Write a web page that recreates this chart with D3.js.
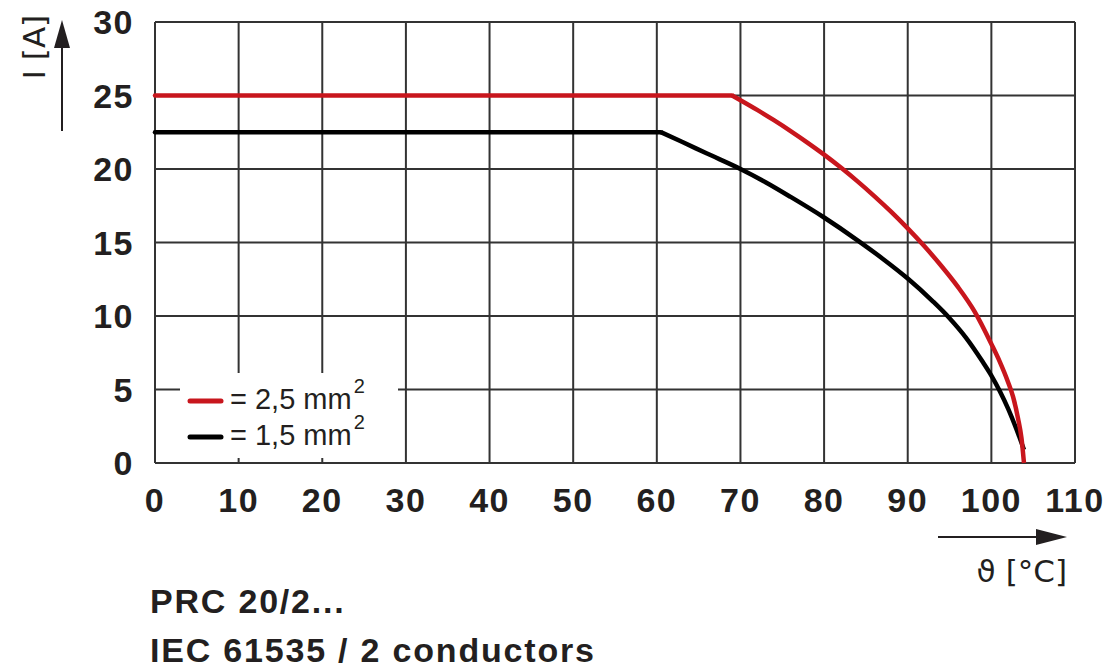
<!DOCTYPE html>
<html>
<head>
<meta charset="utf-8">
<title>PRC 20/2 derating</title>
<script src="https://cdn.jsdelivr.net/npm/d3@7"></script>
<style>
    body { margin: 0; background: #fff; }
    .tick-label { font-family: "Liberation Sans", Arial, sans-serif; font-weight: bold; font-size: 34px; fill: #231f20; letter-spacing: 1.5px; }
    .unit { font-family: "DejaVu Sans", "Liberation Sans", sans-serif; font-size: 31px; fill: #231f20; }
    .legend { font-family: "Liberation Sans", Arial, sans-serif; font-size: 29px; fill: #231f20; }
    .caption { font-family: "Liberation Sans", Arial, sans-serif; font-weight: bold; font-size: 34px; fill: #231f20; letter-spacing: 1.8px; }
</style>
</head>
<body>
<script>
    // tick values
    var xTicks = [0, 10, 20, 30, 40, 50, 60, 70, 80, 90, 100, 110];
    var yTicks = [0, 5, 10, 15, 20, 25, 30];

    // 2,5 mm2 curve (temperature °C, current A)
    var tempRed = [0, 69, 70, 72, 74, 76, 78, 80, 82, 84, 86, 88, 90, 92, 94, 96, 98, 100, 101, 102, 102.6, 103.2, 103.6, 103.9];
    var ampRed  = [25, 25, 24.68, 24.02, 23.32, 22.58, 21.8, 20.98, 20.1, 19.16, 18.16, 17.1, 15.96, 14.74, 13.42, 11.98, 10.3, 8.1, 6.9, 5.5, 4.5, 3.0, 1.7, 0];

    // 1,5 mm2 curve
    var tempBlack = [0, 60.5, 63, 66, 70, 73, 76, 80, 84, 87, 90, 93, 95, 97, 99, 100, 101, 102, 103, 103.9];
    var ampBlack  = [22.5, 22.5, 21.85, 21.05, 20.0, 19.1, 18.1, 16.7, 15.15, 13.9, 12.55, 11.0, 9.85, 8.5, 6.85, 5.95, 4.9, 3.7, 2.3, 0.9];

    var legendLabels = ["= 2,5 mm", "= 1,5 mm"];
    var colors = ["#c8161d", "#000000"];

    var width = 1106, height = 670;
    var plotLeft = 155, plotRight = 1075, plotTop = 22, plotBottom = 463;

    var x = d3.scaleLinear().domain([0, 110]).range([plotLeft, plotRight]);
    var y = d3.scaleLinear().domain([0, 30]).range([plotBottom, plotTop]);

    var svg = d3.select("body").append("svg")
        .attr("width", width)
        .attr("height", height);

    // grid
    var grid = svg.append("g").attr("stroke", "#333").attr("stroke-width", 2);
    grid.selectAll(".vg").data(xTicks).enter().append("line")
        .attr("x1", d => x(d)).attr("x2", d => x(d))
        .attr("y1", plotTop).attr("y2", plotBottom);
    grid.selectAll(".hg").data(yTicks).enter().append("line")
        .attr("x1", plotLeft).attr("x2", plotRight)
        .attr("y1", d => y(d)).attr("y2", d => y(d));

    // legend box covers grid
    svg.append("rect")
        .attr("x", 180).attr("y", 373)
        .attr("width", 218).attr("height", 85)
        .attr("fill", "#fff");

    // curves: flat part + bent part
    function drawCurve(temps, amps, color) {
        var pts = temps.map((t, i) => [t, amps[i]]);
        var flat = pts.slice(0, 2);
        var bend = pts.slice(1);
        var line = d3.line().x(d => x(d[0])).y(d => y(d[1]));
        svg.append("path").attr("d", line(flat))
            .attr("fill", "none").attr("stroke", color).attr("stroke-width", 4.5)
            .attr("stroke-linecap", "round");
        svg.append("path").attr("d", line.curve(d3.curveMonotoneX)(bend))
            .attr("fill", "none").attr("stroke", color).attr("stroke-width", 4.5)
            .attr("stroke-linecap", "butt").attr("stroke-linejoin", "round");
    }
    drawCurve(tempBlack, ampBlack, colors[1]);
    drawCurve(tempRed, ampRed, colors[0]);

    // tick labels
    svg.selectAll(".xl").data(xTicks).enter().append("text")
        .attr("class", "tick-label")
        .attr("x", d => x(d)).attr("y", 512)
        .attr("text-anchor", "middle")
        .text(d => d);
    svg.selectAll(".yl").data(yTicks).enter().append("text")
        .attr("class", "tick-label")
        .attr("x", 134).attr("y", d => y(d) + 12)
        .attr("text-anchor", "end")
        .text(d => d);

    // legend
    legendLabels.forEach(function (lab, i) {
        var ly = 401 + i * 36;
        svg.append("line")
            .attr("x1", 190).attr("x2", 221).attr("y1", ly).attr("y2", ly)
            .attr("stroke", colors[i]).attr("stroke-width", 5).attr("stroke-linecap", "round");
        var t = svg.append("text").attr("class", "legend")
            .attr("x", 230).attr("y", ly + 8).text(lab);
        t.append("tspan").attr("dx", 2).attr("dy", -16).attr("font-size", "20px").text("2");
    });

    // y axis arrow + title
    svg.append("path").attr("d", "M62,131 L62,48")
        .attr("stroke", "#231f20").attr("stroke-width", 2);
    svg.append("path").attr("d", "M54,48 L62,20 L70,48 Z").attr("fill", "#231f20");
    svg.append("text").attr("class", "unit")
        .attr("transform", "translate(45,47) rotate(-90)")
        .attr("text-anchor", "middle")
        .text("I [A]");

    // x axis arrow + title
    svg.append("path").attr("d", "M938,537 L1038,537")
        .attr("stroke", "#231f20").attr("stroke-width", 2);
    svg.append("path").attr("d", "M1036,529 L1067,537 L1036,545 Z").attr("fill", "#231f20");
    svg.append("text").attr("class", "unit")
        .attr("x", 1067).attr("y", 582)
        .attr("text-anchor", "end")
        .text("ϑ [°C]");

    // caption
    svg.append("text").attr("class", "caption").attr("x", 150).attr("y", 613).text("PRC 20/2...");
    svg.append("text").attr("class", "caption").attr("x", 150).attr("y", 662).text("IEC 61535 / 2 conductors");
</script>
</body>
</html>
